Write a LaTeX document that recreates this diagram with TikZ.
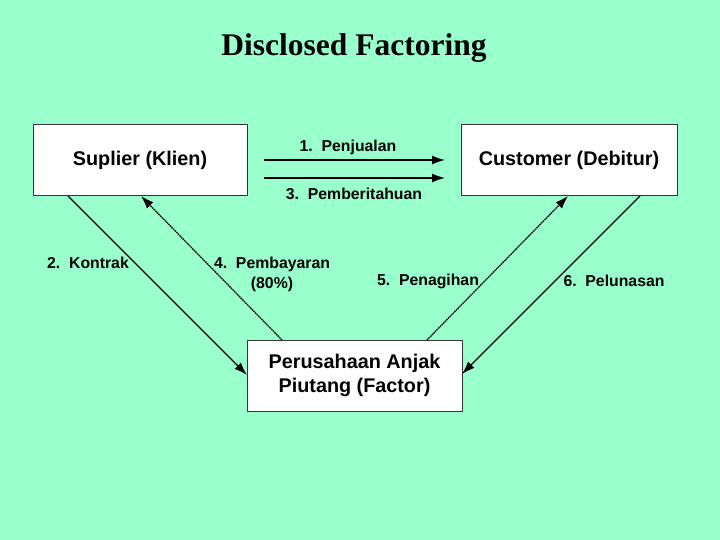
\documentclass[tikz,border=0pt]{standalone}
\usepackage{fontspec}
\setmainfont{Liberation Serif}
\setsansfont{Liberation Sans}
\usetikzlibrary{arrows.meta}
\definecolor{bgc}{RGB}{153,255,204}
\tikzset{
  box/.style={draw=black!80, line width=1pt, fill=white, inner sep=0pt, font=\sffamily\bfseries\fontsize{19.8}{22}\selectfont, align=center},
  lab/.style={font=\sffamily\bfseries\fontsize{15.8}{19}\selectfont, inner sep=1pt, align=center},
  arr/.style={line width=1.3pt, -{Latex[length=13pt,width=9pt]}},
  dotarr/.style={arr, dash pattern=on 1.6pt off 0.7pt},
}
\begin{document}
\begin{tikzpicture}[x=1pt,y=-1pt]
\fill[bgc] (0,0) rectangle (720,540);
\useasboundingbox (0,0) rectangle (720,540);
\node[font=\bfseries\fontsize{31.5}{36}\selectfont] (title) at (354,48) {Disclosed Factoring};
\node[box, minimum width=214pt, minimum height=71pt] (sup) at (140,160.5) {\raisebox{-2pt}{Suplier (Klien)}};
\node[box, minimum width=216pt, minimum height=71pt] (cus) at (569,160.5) {\raisebox{-2pt}{Customer (Debitur)}};
\node[box, minimum width=215pt, minimum height=71pt] (fac) at (354.5,375.5) {Perusahaan Anjak\\[1.5pt]Piutang (Factor)};
\coordinate (a1s) at (264,160); \coordinate (a1e) at (445,160);
\coordinate (a3s) at (264,178); \coordinate (a3e) at (445,178);
\draw[arr] (a1s) -- (a1e);
\draw[arr] (a3s) -- (a3e);
\node[lab] (l1) at (348,147) {1.\ \ Penjualan};
\node[lab] (l3) at (354,194) {3.\ \ Pemberitahuan};
% 2 Kontrak
\coordinate (k0) at (68,196);
\coordinate (k1) at (247,375);
\draw[arr] (k0) -- (k1);
\node[lab] (l2) at (88,263) {2.\ \ Kontrak};
% 4 Pembayaran
\coordinate (p0) at (282,340);
\coordinate (p1) at (141,196);
\draw[dotarr] (p0) -- (p1);
\node[lab] (l4) at (272,274) {4.\ \ Pembayaran\\[1pt](80\%)};
% 5 Penagihan
\coordinate (n0) at (427,340);
\coordinate (n1) at (568,196);
\draw[dotarr] (n0) -- (n1);
\node[lab] (l5) at (428,281) {5.\ \ Penagihan};
% 6 Pelunasan
\coordinate (q0) at (640,196);
\coordinate (q1) at (462,374);
\draw[arr] (q0) -- (q1);
\node[lab] (l6) at (614,281) {6.\ \ Pelunasan};
\end{tikzpicture}
\end{document}
